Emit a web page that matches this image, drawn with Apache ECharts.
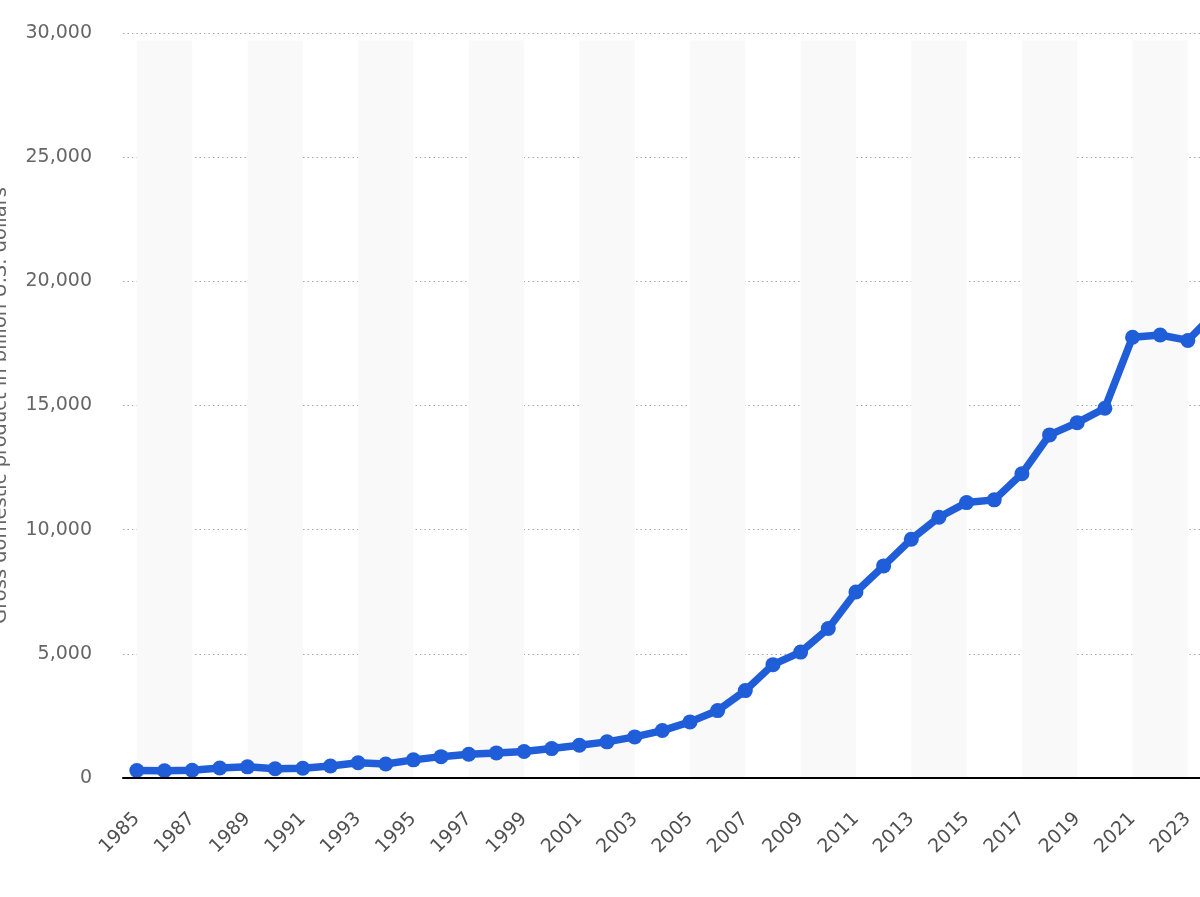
<!DOCTYPE html>
<html>
<head>
<meta charset="utf-8">
<script src="https://cdn.jsdelivr.net/npm/echarts@6/dist/echarts.min.js"></script>
<style>
html,body{margin:0;padding:0;overflow:hidden;background:#fff;}
#c{width:1300px;height:897px;}
</style>
</head>
<body>
<div id="c"></div>
<script>
const years = ['1985','1986','1987','1988','1989','1990','1991','1992','1993','1994','1995','1996','1997','1998','1999','2000','2001','2002','2003','2004','2005','2006','2007','2008','2009','2010','2011','2012','2013','2014','2015','2016','2017','2018','2019','2020','2021','2022','2023','2024','2025'];
const gdp = [300, 290, 310, 405, 450, 370, 390, 485, 615, 565, 730, 860, 955, 1010, 1065, 1185, 1320, 1455, 1655, 1910, 2260, 2715, 3520, 4565, 5070, 6020, 7490, 8540, 9615, 10500, 11090, 11200, 12250, 13815, 14310, 14890, 17750, 17840, 17620, 18750, null];
const yTicks = [0, 5000, 10000, 15000, 20000, 25000, 30000];
const yName = 'Gross domestic product in billion U.S. dollars';

const bands = [];
for (let i = 0; i < years.length; i += 4) {
  const end = years[Math.min(i + 2, years.length - 1)];
  bands.push([{xAxis: years[i], yAxis: 0}, {xAxis: end, yAxis: 29700}]);
}

const chart = echarts.init(document.getElementById('c'));
chart.setOption({
  animation: false,
  backgroundColor: '#fff',
  grid: {left: 123, right: 43, top: 33, bottom: 119, containLabel: false, outerBoundsMode: 'none'},
  xAxis: {
    type: 'category',
    data: years,
    boundaryGap: true,
    z: 10,
    axisLine: {show: true, lineStyle: {color: '#000', width: 2}},
    axisTick: {show: false},
    axisLabel: {interval: 1, rotate: 45, margin: 38, color: '#505050', fontSize: 19, fontFamily: 'DejaVu Sans'},
    splitLine: {show: false}
  },
  yAxis: {
    type: 'value',
    min: yTicks[0],
    max: yTicks[yTicks.length - 1],
    interval: 5000,
    name: yName,
    nameLocation: 'middle',
    nameGap: 112,
    nameTextStyle: {color: '#666', fontSize: 19.5, fontFamily: 'DejaVu Sans'},
    axisLine: {show: false},
    axisTick: {show: false},
    axisLabel: {margin: 31, color: '#666', fontSize: 19, fontFamily: 'DejaVu Sans',
      formatter: v => v.toLocaleString('en-US')},
    splitLine: {show: true, lineStyle: {color: '#a8a8a8', type: [1.5, 3], width: 1.2}}
  },
  series: [
    {
      type: 'line',
      z: 1,
      data: years.map(() => null),
      symbol: 'none',
      silent: true,
      markArea: {silent: true, itemStyle: {color: '#f9f9f9'}, data: bands}
    },
    {
      type: 'line',
      z: 3,
      data: gdp,
      symbol: 'circle',
      symbolSize: 15,
      showAllSymbol: true,
      lineStyle: {color: '#1f5ed8', width: 7.5},
      itemStyle: {color: '#1f5ed8'}
    }
  ]
});
</script>
</body>
</html>
